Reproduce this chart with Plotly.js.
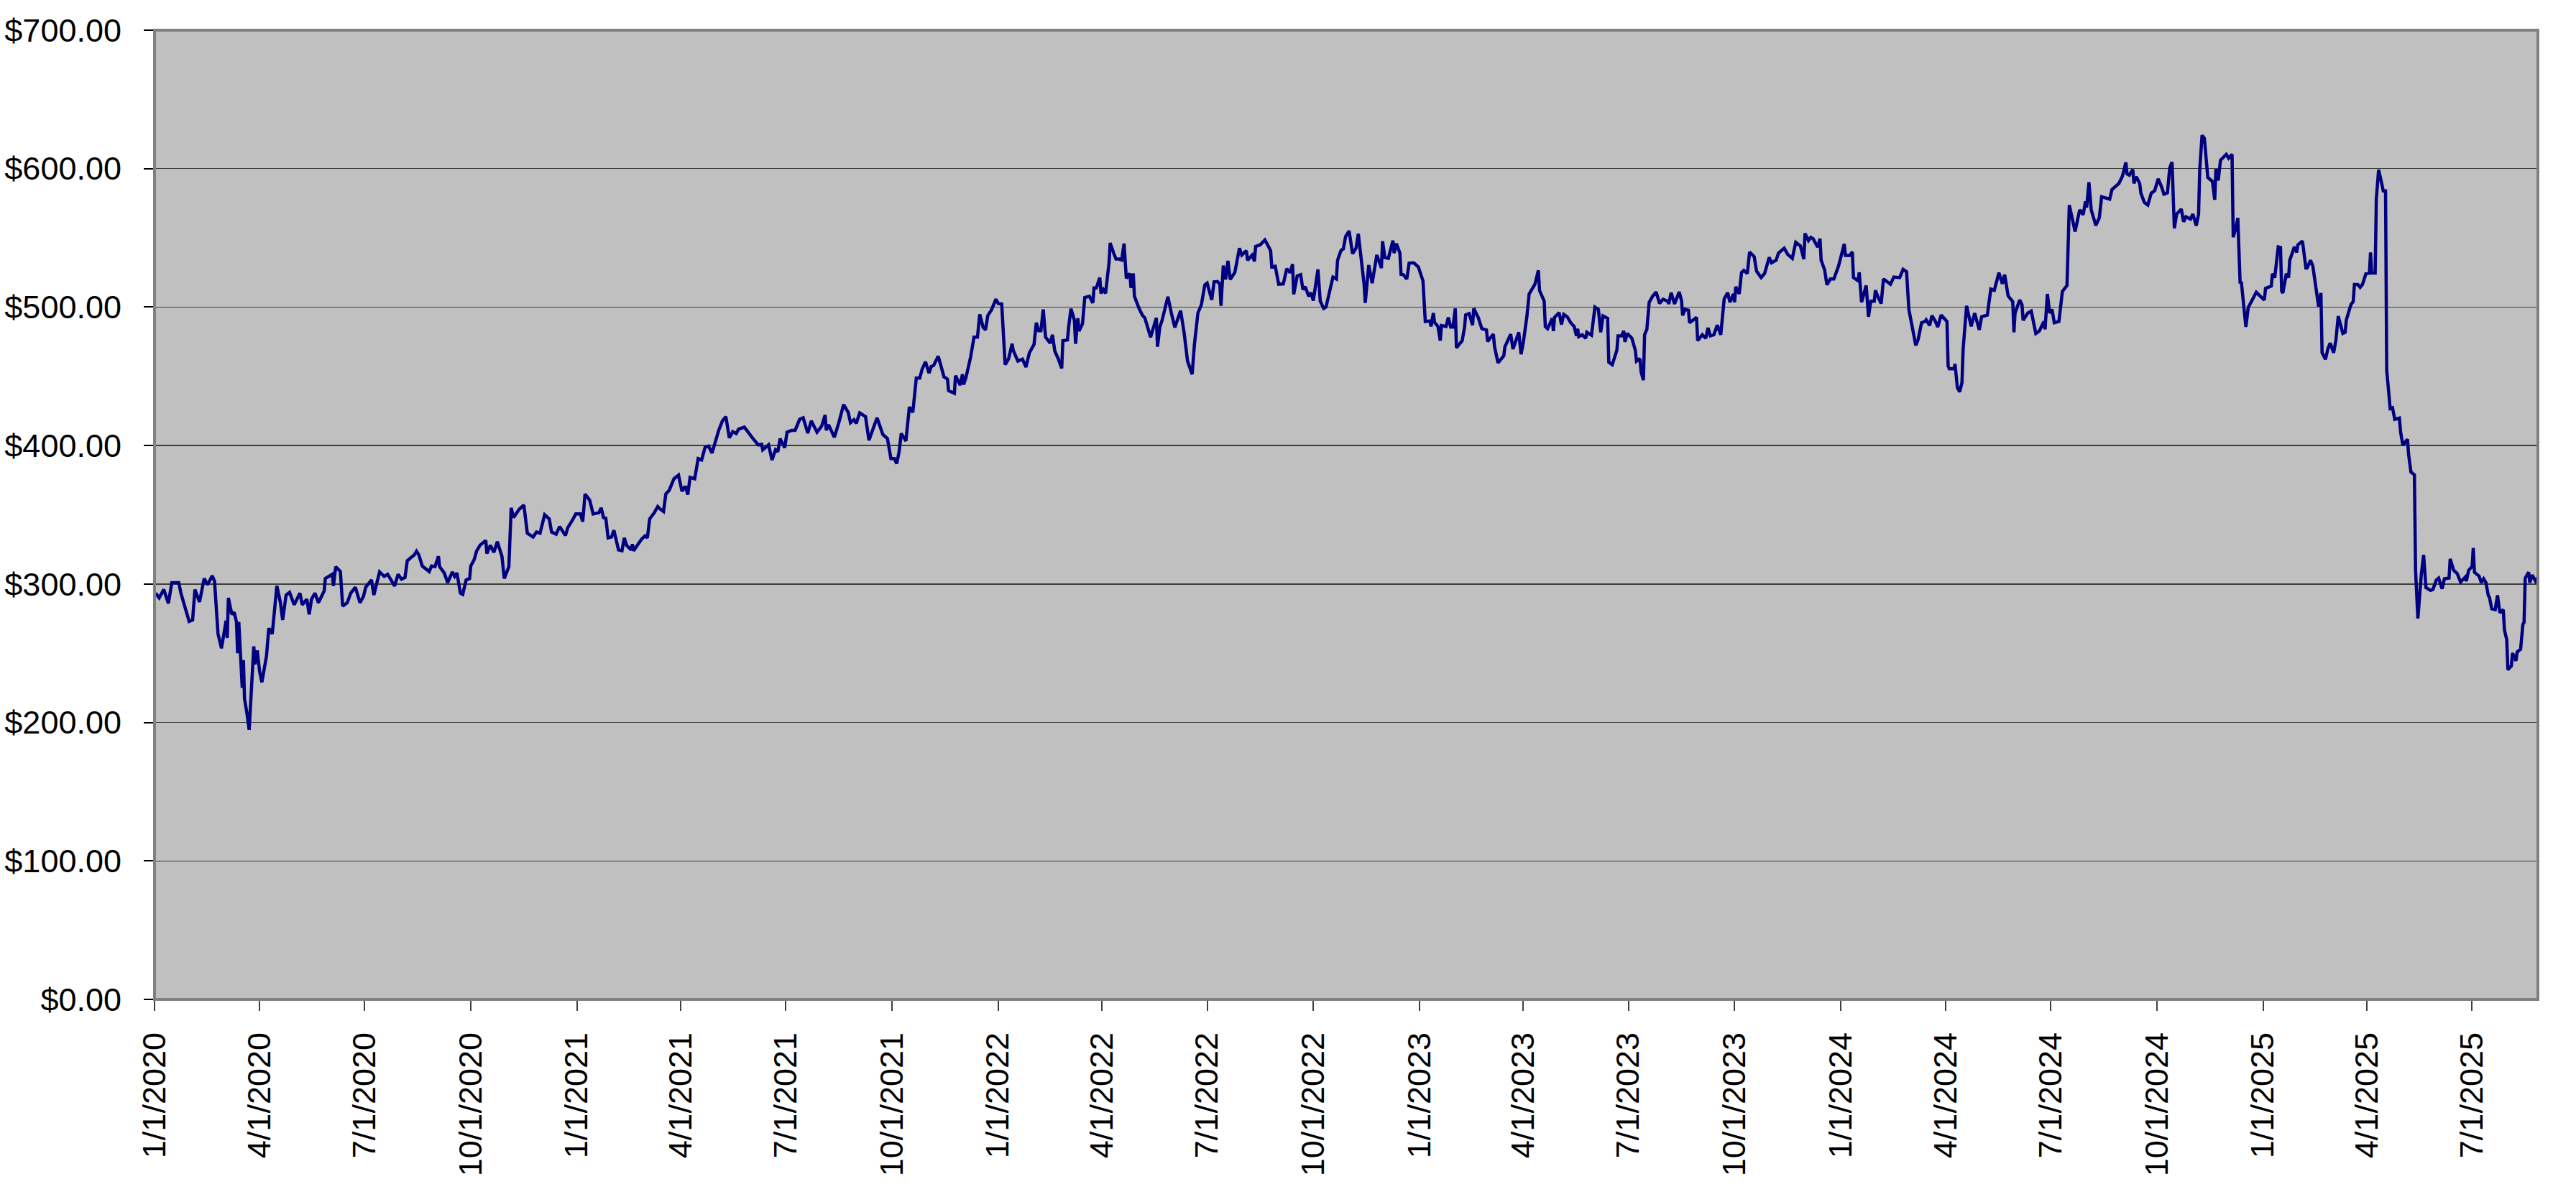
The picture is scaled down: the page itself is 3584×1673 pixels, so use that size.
<!DOCTYPE html>
<html>
<head>
<meta charset="utf-8">
<script src="https://cdn.plot.ly/plotly-3.0.1.min.js"></script>
<style>
html,body{margin:0;padding:0;background:#ffffff;}
#chart{width:3584px;height:1673px;}
</style>
</head>
<body>
<div id="chart"></div>
<script>
// Series start date; each point is [days since start, closing price]
const startDate = '2020-01-01';
const endDay = 2065;

const prices2020 = [[1,293.4],[4,290],[8,296],[12,286],[15,301],[21,301],[23,293],[26,284],[30,273],[33,274],[35,296],[39,287],[43,304],[46,299.5],[50,306],[52,302],[55,264],[58,253.6],[62,273.5],[63,261],[64,290],[67,278],[69,279.6],[71,272.6],[72,250],[73,272.6],[76,225],[77,245],[78,217],[80,207],[82,194.7],[86,255],[87,242],[89,252],[91,237],[93,229],[97,248],[99,268],[102,264],[106,298.6],[109,287],[111,274],[114,292],[117,294],[121,285],[126,293.4],[128,285],[132,289],[134,278],[136,289],[139,293.4],[142,286.5],[147,295],[148,304],[154,307],[155,298.6],[157,312.5],[161,309],[163,284],[167,286.5],[170,293.4],[174,297.7],[178,286.5],[181,291],[183,297.7],[188,303],[190,292],[195,308.7],[199,305.5],[202,307],[208,298.6],[211,307],[214,303.5],[217,304.7],[219,316.8],[222,319],[225,321],[227,323.7],[229,321],[232,313],[238,309],[240,313],[243,312.5],[246,320],[247,312.5],[251,308],[254,301],[258,308.7],[260,305.5],[262,308],[265,293.4],[267,292.5],[270,303],[273,304],[274,313],[277,317.7],[279,323.7],[282,328],[287,331.5],[288,322],[291,328],[294,322.9],[297,330.6],[301,320],[303,304],[307,312.5],[309,355],[311,348],[316,354],[320,357],[323,336.7],[328,334],[331,337.6],[334,336.7],[338,350],[342,347],[344,337.6],[348,336],[351,341.5],[356,335],[358,340.6],[362,346],[365,350.6]];

const prices2021 = [[369,350.6],[371,345],[373,365],[377,360.6],[380,350.6],[385,351.5],[387,355],[389,348],[391,347.5],[393,333.3],[396,334],[398,338.8],[402,324.6],[405,324],[407,333.3],[409,327.9],[413,324.6],[414,328.8],[415,324],[420,329.7],[422,332.4],[425,334.8],[427,333.3],[429,347],[433,351.5],[436,356],[438,354.2],[441,352.4],[443,365],[446,367.8],[450,376],[454,378.7],[457,367],[460,370.6],[462,364.6],[464,377],[468,376],[471,390.6],[474,389.6],[477,398.7],[480,399.6],[483,394.6],[485,400.5],[489,411.4],[492,417.8],[495,420.9],[498,405.6],[501,410],[504,408.7],[506,411.8],[511,413.3],[514,409.6],[518,405.6],[523,400.5],[526,400.9],[527,396.9],[532,400.5],[535,389.6],[538,396.9],[540,395.5],[542,405],[546,398.4],[548,409.6],[552,411],[555,411],[559,419],[562,420],[566,409],[569,417.8],[574,409.6],[578,414],[581,422],[582,411],[584,415],[589,406],[593,416.9],[597,429.6],[601,424],[603,416.5],[606,418.7],[608,416],[611,423.6],[616,420.9],[619,403.8],[623,413.3],[626,420],[631,408],[635,405],[638,390.6],[641,390.6],[643,387],[645,395],[647,408.7],[651,403.3],[654,427.8],[657,424],[660,448.7],[663,448.7],[665,455],[668,460.5],[671,452.3],[673,457.2],[675,457.8],[679,464.5],[681,458.7],[684,449.6],[687,448],[688,439.6],[693,437.8],[694,450.5],[698,443.7],[700,451.5],[701,444],[703,449],[707,463.6],[710,478.3],[713,478.3],[715,494.8],[718,485.3],[720,483.5],[722,494],[725,497.7],[729,505.7]];

const prices2022 = [[731,502.6],[734,502.3],[735,489.6],[737,458.4],[740,462.7],[743,473.5],[744,468.8],[748,461],[752,462.4],[755,456.7],[758,467],[762,473],[764,488.7],[766,483],[768,483],[770,498.3],[772,478.3],[776,474],[778,480],[780,468.3],[783,462.7],[786,455.8],[787,475.7],[791,476.3],[792,485.6],[794,498.8],[797,490.5],[798,473.5],[800,491.9],[801,482.7],[804,487.9],[806,507],[810,507.8],[813,503],[814,513.9],[816,513.9],[819,521.3],[820,509.9],[822,512.7],[824,509.9],[827,532],[828,546.3],[831,539],[833,534.7],[836,534.7],[838,534],[840,545.9],[842,520.8],[845,524.3],[846,513.9],[848,524.3],[849,507.8],[853,499],[856,494],[858,492.2],[860,486],[862,481.8],[863,478.3],[866,486.7],[868,492.2],[869,471.4],[871,485.6],[873,490.5],[878,507.5],[881,495.7],[884,485.3],[889,497.4],[892,481.8],[895,461],[899,451.5],[901,473.1],[904,495.7],[907,501.7],[910,516],[912,517.3],[916,505.2],[918,518.2],[921,518.5],[923,516.5],[924,500.9],[926,530],[928,520],[930,533.4],[932,520],[936,525],[940,542.5],[942,537.6],[946,540.7],[947,533.8],[951,537.6],[953,533],[954,543.8],[958,545],[962,548.5],[964,545.6],[967,540.7],[968,529],[971,529.5],[974,516.5],[978,516.8],[981,527.7],[984,524.8],[986,531],[987,509.2],[990,522.5],[993,523.4],[995,512.7],[997,514.7],[1000,507.8],[1002,510.4],[1004,504.7],[1008,527.2],[1010,504.3],[1013,499],[1015,500],[1018,510.4],[1021,521.7],[1024,520.3],[1025,533.8],[1028,541],[1030,542],[1032,551],[1035,555],[1038,538.6],[1041,542.5],[1043,552.9],[1046,530],[1048,516.5],[1049,503],[1052,530.3],[1055,517.3],[1059,537.6],[1063,528.2],[1064,547.6],[1066,535.8],[1069,535.2],[1073,548],[1074,539],[1076,545.9],[1079,539],[1080,523.7],[1082,523.4],[1085,520.3],[1087,531.7],[1091,532],[1095,529]];

const prices2023 = [[1099,519],[1101,489.6],[1105,490],[1106,486],[1108,495.7],[1109,489],[1112,486],[1114,475.8],[1115,486.7],[1119,486],[1121,492.6],[1123,485.6],[1125,485.6],[1127,499],[1128,470.6],[1133,475.8],[1135,485.3],[1136,494.3],[1139,495.3],[1142,487],[1143,499],[1147,492.2],[1150,484.4],[1154,483.5],[1155,475.2],[1160,480.4],[1161,471.4],[1164,459.7],[1169,464.8],[1170,471.4],[1175,480.4],[1177,469.7],[1182,481.8],[1184,465.9],[1186,474.9],[1189,493],[1191,509.5],[1194,513.9],[1196,516.5],[1199,526.5],[1200,512],[1204,504.3],[1205,486],[1207,484.4],[1211,491.9],[1212,482.7],[1213,492.6],[1217,496],[1219,487.4],[1221,494.8],[1224,493],[1227,488.7],[1230,486],[1232,479.2],[1233,484.4],[1234,478.7],[1237,480],[1240,477.5],[1241,481.8],[1245,479.7],[1248,500],[1251,498.3],[1253,481.8],[1255,493.6],[1259,491.9],[1260,460.2],[1263,458.4],[1267,468.8],[1268,479.2],[1271,479.2],[1273,482.7],[1274,474.9],[1276,481],[1280,477.5],[1283,468.8],[1284,461],[1287,462.8],[1288,453.2],[1290,447.2],[1291,480],[1293,484],[1295,503.5],[1298,507.8],[1301,510.9],[1304,502.6],[1307,505.7],[1311,504.3],[1312,502.3],[1314,510.4],[1317,502.3],[1321,510.9],[1323,504.7],[1324,494],[1326,498.3],[1329,497.7],[1330,488.7],[1336,492.6],[1337,475.8],[1341,480],[1344,477.5],[1346,485],[1348,479.2],[1351,480],[1354,487],[1357,480],[1360,506],[1363,510.4],[1365,503.5],[1368,509.5],[1369,503.5],[1370,514.7],[1373,509.5],[1375,525],[1377,526.5],[1380,524.2],[1382,539.8],[1386,536.4],[1388,526],[1392,521.3],[1395,524.3],[1397,530.3],[1399,535.9],[1401,532],[1405,533.8],[1407,539],[1410,541.6],[1412,542.5],[1415,538.1],[1419,535.2],[1422,546.8],[1426,544.2],[1429,534.7],[1430,553.2],[1433,548],[1435,550.3],[1437,549.4],[1441,543.3],[1443,549.4],[1444,533.8],[1447,526.9],[1449,516.1],[1452,520.3],[1455,520.3],[1459,529.5]];

const prices2024 = [[1464,545.6],[1465,537.3],[1469,537.3],[1471,539.9],[1472,521.3],[1476,519],[1477,525.1],[1479,503.5],[1483,515.6],[1485,493],[1487,504.3],[1490,504.3],[1491,512.1],[1493,507.8],[1496,502.6],[1498,520.3],[1502,517.3],[1504,516.5],[1507,521.7],[1512,521.3],[1515,527.2],[1518,525.5],[1520,498.3],[1523,484.4],[1524,480.9],[1526,472.3],[1528,476.6],[1531,488.7],[1534,489.6],[1535,490.8],[1538,486.7],[1540,493.9],[1543,489.6],[1545,485.6],[1548,494.3],[1553,489.6],[1554,457.5],[1555,455.5],[1559,455.5],[1560,458.9],[1562,441.9],[1564,438.8],[1566,445.4],[1567,469.7],[1570,500.9],[1574,486.1],[1577,495.7],[1581,483.5],[1583,493],[1588,494.3],[1589,500.9],[1591,513],[1594,512.1],[1598,524.8],[1601,516.8],[1603,523.4],[1606,508.1],[1610,504],[1611,481.8],[1612,495.7],[1616,505.2],[1618,501.7],[1619,490.5],[1623,495.7],[1626,497.1],[1630,480.9],[1633,482.7],[1637,489.6],[1638,483.9],[1640,509.5],[1642,495.7],[1644,498.3],[1646,488.7],[1650,489.6],[1653,511.3],[1657,515.6],[1659,573.7],[1661,565],[1664,554.6],[1668,570.2],[1671,566.7],[1673,576.3],[1674,571.9],[1676,590.1],[1678,570.2],[1682,558.9],[1685,564.6],[1687,579.7],[1691,578.9],[1694,578],[1696,584.9],[1699,587.2],[1702,589.3],[1705,594.5],[1708,604.5],[1709,596.2],[1711,595.3],[1714,599.3],[1715,589.3],[1717,594.1],[1720,589.3],[1721,582.3],[1724,575.7],[1727,573.7],[1730,582.3],[1733,584.1],[1736,592.7],[1739,586.7],[1741,581.5],[1744,582.5],[1746,600.5],[1748,604.7],[1750,556.9],[1752,567.2],[1756,570.8],[1758,561.6],[1760,565.2],[1764,563.6],[1766,567.2],[1769,558.8],[1771,567.2],[1772,599.2],[1774,624],[1776,622],[1779,593.6],[1783,590.8],[1785,577.5],[1786,599.7],[1788,591.4],[1790,606.1],[1795,610.3],[1797,607.5],[1800,610.3],[1801,550.5],[1803,556.1],[1805,564.4],[1807,517.1],[1808,518.5],[1812,485.7],[1814,499.6],[1817,504.6],[1821,510.7],[1825,507.4]];

const prices2025 = [[1828,505.1],[1829,513.5],[1834,515.2],[1835,524.1],[1837,521.3],[1840,543.5],[1842,543],[1843,511.5],[1844,510.2],[1847,524.1],[1849,521.3],[1850,533.8],[1854,543.5],[1856,539.4],[1857,544.9],[1861,547.7],[1864,528.2],[1865,528.2],[1868,533.8],[1870,529.6],[1874,507.4],[1875,500.4],[1877,510.2],[1878,467],[1881,462.3],[1883,469.8],[1885,474],[1888,467],[1890,476.2],[1892,493.5],[1896,481],[1898,481.8],[1899,490.7],[1903,501.8],[1905,504],[1906,516.3],[1909,516.3],[1911,514.3],[1913,516.3],[1916,524.1],[1919,524.6],[1920,539.4],[1921,524.6],[1924,524.6],[1925,578.3],[1927,599.2],[1930,588],[1931,583.9],[1933,583.9],[1934,454.5],[1937,426.7],[1939,427.3],[1941,418.9],[1945,419.8],[1946,410],[1948,400.3],[1952,404.5],[1953,393.3],[1955,380.8],[1958,378.9],[1959,309.9],[1961,275.1],[1964,307.1],[1966,321],[1968,297.4],[1972,295.4],[1974,296],[1977,302.9],[1979,304.3],[1982,296.5],[1984,303.8],[1988,304.3],[1989,318.2],[1992,309.9],[1995,307.7],[1998,301.5],[2002,304.9],[2003,302.1],[2005,309.9],[2008,312.7],[2009,326],[2010,308.5],[2014,305.7],[2016,301],[2018,303.8],[2020,301],[2022,291.8],[2023,290.4],[2025,282.1],[2028,281.5],[2030,291.8],[2032,279.3],[2035,281.5],[2036,266.8],[2038,259.8],[2039,238.1],[2042,240.9],[2043,250.1],[2046,244.5],[2047,250.9],[2050,252.9],[2052,270.9],[2053,272.3],[2054,304.3],[2057,308.5],[2058,301],[2060,306.5],[2063,302.1],[2065,304.9]];

const xTickLabels = ['1/1/2020','4/1/2020','7/1/2020','10/1/2020','1/1/2021','4/1/2021','7/1/2021','10/1/2021','1/1/2022','4/1/2022','7/1/2022','10/1/2022','1/1/2023','4/1/2023','7/1/2023','10/1/2023','1/1/2024','4/1/2024','7/1/2024','10/1/2024','1/1/2025','4/1/2025','7/1/2025'];

const yTickValues = [0,100,200,300,400,500,600,700];

// ---- build ----
const t0 = Date.parse(startDate + 'T00:00:00Z');
function dayToISO(d){ return new Date(t0 + d*86400000).toISOString().slice(0,10); }
function mdyToISO(s){ const p = s.split('/'); return p[2] + '-' + p[0].padStart(2,'0') + '-' + p[1].padStart(2,'0'); }

const allPoints = [].concat(prices2020, prices2021, prices2022, prices2023, prices2024, prices2025);
const xs = allPoints.map(p => dayToISO(p[0]));
const ys = allPoints.map(p => p[1]);

const FONT = 'Liberation Sans, Arial, Helvetica, sans-serif';

const trace = {
  type: 'scatter',
  mode: 'lines',
  x: xs,
  y: ys,
  line: {color: '#000080', width: 4.5},
  hoverinfo: 'skip'
};

const layout = {
  width: 3584,
  height: 1673,
  margin: {l: 215, r: 53, t: 42, b: 282, pad: 0},
  paper_bgcolor: '#ffffff',
  plot_bgcolor: '#c0c0c0',
  showlegend: false,
  font: {family: FONT, size: 45, color: '#000000'},
  xaxis: {
    type: 'date',
    range: [startDate, dayToISO(endDay)],
    tickmode: 'array',
    tickvals: xTickLabels.map(mdyToISO),
    ticktext: xTickLabels,
    tickangle: -90,
    ticks: 'outside',
    ticklen: 14,
    tickwidth: 2,
    tickcolor: '#404040',
    ticklabelstandoff: 12,
    showgrid: false,
    zeroline: false,
    showline: true,
    linecolor: '#000000',
    linewidth: 2,
    tickfont: {family: FONT, size: 45, color: '#000000'},
    fixedrange: true
  },
  yaxis: {
    range: [0, 700],
    tickmode: 'array',
    tickvals: yTickValues,
    ticktext: yTickValues.map(v => '$' + v.toFixed(2)),
    ticks: 'outside',
    ticklen: 13,
    tickwidth: 2,
    tickcolor: '#000000',
    ticklabelstandoff: 22,
    showgrid: true,
    gridcolor: '#3c3c3c',
    gridwidth: 1.5,
    zeroline: false,
    showline: true,
    linecolor: '#404040',
    linewidth: 2,
    tickfont: {family: FONT, size: 45, color: '#000000'},
    fixedrange: true
  },
  shapes: [{
    type: 'rect', xref: 'paper', yref: 'paper', x0: 0, x1: 1, y0: 0, y1: 1,
    line: {color: '#808080', width: 4}, fillcolor: 'rgba(0,0,0,0)', layer: 'above'
  }]
};

Plotly.newPlot('chart', [trace], layout, {displayModeBar: false, staticPlot: true});
</script>
</body>
</html>
